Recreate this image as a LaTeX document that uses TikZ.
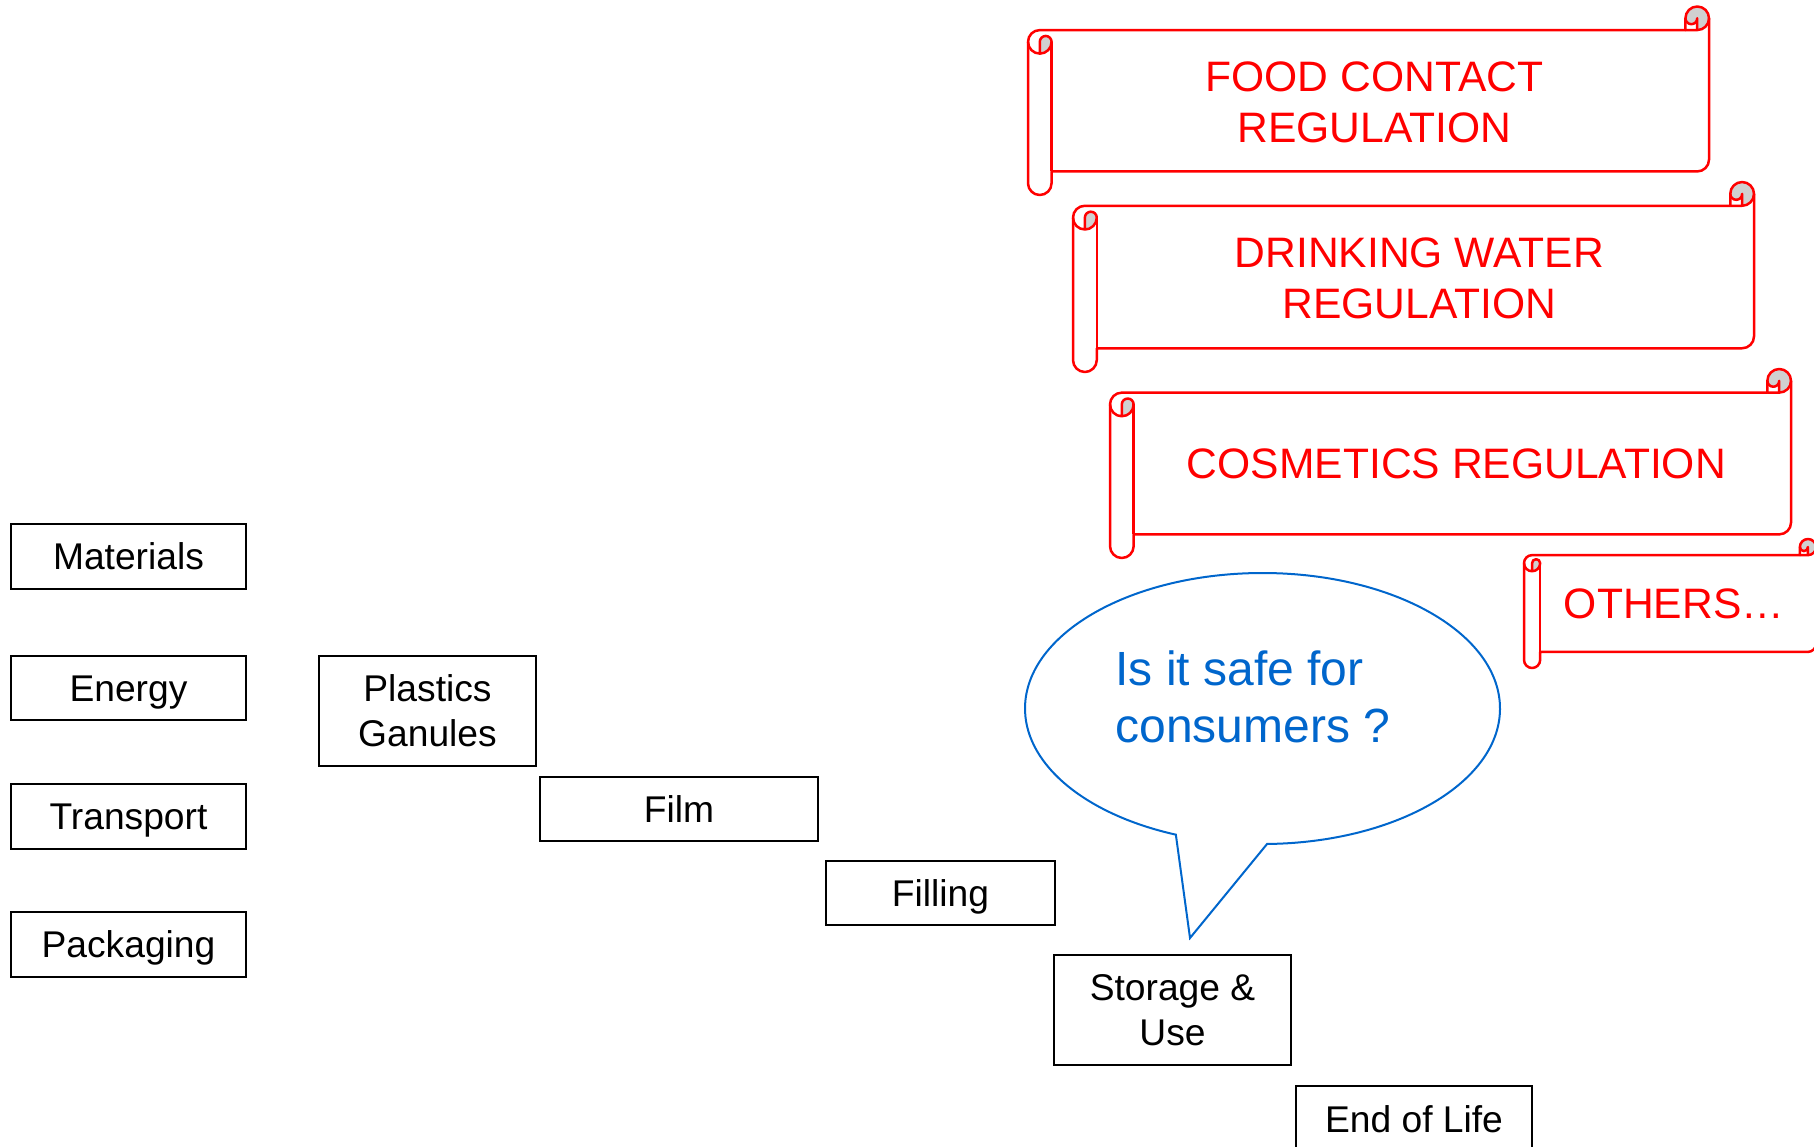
\documentclass[tikz,border=0pt]{standalone}
\usepackage{fontspec}
\setmainfont{Liberation Sans}

\definecolor{scrollred}{HTML}{FF0000}
\definecolor{curlgray}{HTML}{D0D0D0}
\definecolor{askblue}{HTML}{0066CC}

% Outline of a horizontal scroll; uses the values set by \regscroll
\newcommand\scrollpath{(\scL,\scYc) arc[start angle=180,delta angle=90,radius=\scH]
  -- (\scXa,\scYb) -- (\scXa,\scYa) arc[start angle=180,delta angle=180,radius=\scH]
  -- (\scR,\scYe) arc[start angle=0,delta angle=90,radius=\scH]
  -- (\scXd,\scYf) -- (\scXd,\scYg) arc[start angle=0,delta angle=180,radius=\scH] -- cycle}

% \regscroll{name}{left}{top}{width}{height}: draws the scroll and
% puts a coordinate called name at the centre of its text area
\newcommand\regscroll[5]{%
  \pgfmathsetmacro\scL{#2}%
  \pgfmathsetmacro\scT{#3}%
  \pgfmathsetmacro\scR{#2+#4}%
  \pgfmathsetmacro\scB{#3+#5}%
  \pgfmathsetmacro\scC{0.125*min(#4,#5)}%
  \pgfmathsetmacro\scH{\scC/2}%
  \pgfmathsetmacro\scQ{\scC/4}%
  \pgfmathsetmacro\scXa{\scR-\scC}%
  \pgfmathsetmacro\scXb{\scR-\scH}%
  \pgfmathsetmacro\scXc{\scL+\scH}%
  \pgfmathsetmacro\scXd{\scL+\scC}%
  \pgfmathsetmacro\scYa{\scT+\scH}%
  \pgfmathsetmacro\scYb{\scT+\scC}%
  \pgfmathsetmacro\scYc{\scT+\scC+\scH}%
  \pgfmathsetmacro\scYd{\scT+2*\scC}%
  \pgfmathsetmacro\scYf{\scB-\scC}%
  \pgfmathsetmacro\scYe{\scYf-\scH}%
  \pgfmathsetmacro\scYg{\scB-\scH}%
  \fill[white] \scrollpath;
  \fill[curlgray] (\scXc,\scYd) arc[start angle=90,delta angle=-90,radius=\scH]
      arc[start angle=0,delta angle=-180,radius=\scQ] -- cycle;
  \fill[curlgray] (\scXb,\scYb) arc[start angle=90,delta angle=-270,radius=\scH]
      arc[start angle=180,delta angle=-180,radius=\scQ] -- cycle;
  \draw[scrollline] \scrollpath;
  \draw[scrollline] (\scXa,\scYb) -- (\scXb,\scYb) arc[start angle=90,delta angle=-90,radius=\scH];
  \draw[scrollline] (\scXb,\scYb) -- (\scXb,\scYa) arc[start angle=0,delta angle=180,radius=\scQ];
  \draw[scrollline] (\scXc,\scYd) -- (\scXc,\scYc) arc[start angle=180,delta angle=180,radius=\scQ]
      arc[start angle=0,delta angle=180,radius=\scH];
  \draw[scrollline] (\scXd,\scYc) -- (\scXd,\scYf);
  \coordinate (#1) at ({(\scXd+\scXb)/2},{(\scYb+\scYf)/2});
}

\tikzset{
  stage/.style={draw=black, line width=0.85pt, inner sep=0pt, align=center,
    font=\fontsize{18.6}{22.5}\selectfont},
  oneline/.style={text height=13.3pt, text depth=0pt},
  scrollline/.style={draw=scrollred, line width=1.25pt, line join=round},
  regtext/.style={text=scrollred, inner sep=0pt, align=center,
    font=\fontsize{21.3}{25.5}\selectfont},
  callout/.style={draw=askblue, line width=1pt, fill=white, line join=miter},
  asktext/.style={text=askblue, inner sep=0pt, align=left, anchor=base west,
    font=\fontsize{24}{28.5}\selectfont},
}

\begin{document}
\begin{tikzpicture}[x=0.5pt, y=-0.5pt]
  \useasboundingbox (0,0) rectangle (1814,1146);
  \clip (0,0) rectangle (1814,1146);

  % regulation scrolls
  \regscroll{food}{1028}{6.5}{681}{188.5}
  \regscroll{water}{1073}{182}{681}{190}
  \regscroll{cosm}{1110}{369}{681}{189}
  \regscroll{other}{1524}{539}{292}{129}
  \node[regtext] (foodtxt) at ([yshift=-0.6pt]food) {FOOD CONTACT\\REGULATION};
  \node[regtext] (watertxt) at ([yshift=-0.6pt]water) {DRINKING WATER\\REGULATION};
  \node[regtext] (cosmtxt) at (cosm) {COSMETICS REGULATION};
  \node[regtext] (othertxt) at (other) {OTHERS\ldots};

  % speech bubble
  \coordinate (bub) at (1262.5,708.5);
  \coordinate (tip) at (1190,938);
  \draw[callout] (bub) ++(88.9:237.5 and 135.5)
    arc[start angle=88.9, end angle=-248.6, x radius=237.5, y radius=135.5]
    -- (tip) -- cycle;
  \node[asktext] (ask) at (1115,742) {Is it safe for\\consumers ?};

  % life-cycle inputs
  \node[stage, oneline, minimum width=117.5pt, minimum height=32.5pt] (mat) at (128.5,556.5) {Materials};
  \node[stage, oneline, minimum width=117.5pt, minimum height=32pt] (ene) at (128.5,688) {Energy};
  \node[stage, oneline, minimum width=117.5pt, minimum height=32.5pt] (tra) at (128.5,816.5) {Transport};
  \node[stage, oneline, minimum width=117.5pt, minimum height=32.5pt] (pac) at (128.5,944.5) {Packaging};

  % life-cycle stages
  \node[stage, minimum width=108.5pt, minimum height=55pt] (gra) at (427.5,711) {Plastics\\Ganules};
  \node[stage, oneline, minimum width=139pt, minimum height=32pt] (film) at (679,809) {Film};
  \node[stage, oneline, minimum width=114.5pt, minimum height=32pt] (fill) at (940.5,893) {Filling};
  \node[stage, minimum width=118.5pt, minimum height=55pt] (use) at (1172.5,1010) {Storage \&\\Use};
  \node[stage, oneline, minimum width=118pt, minimum height=33pt] (eol) at (1414,1119) {End of Life};
\end{tikzpicture}
\end{document}
